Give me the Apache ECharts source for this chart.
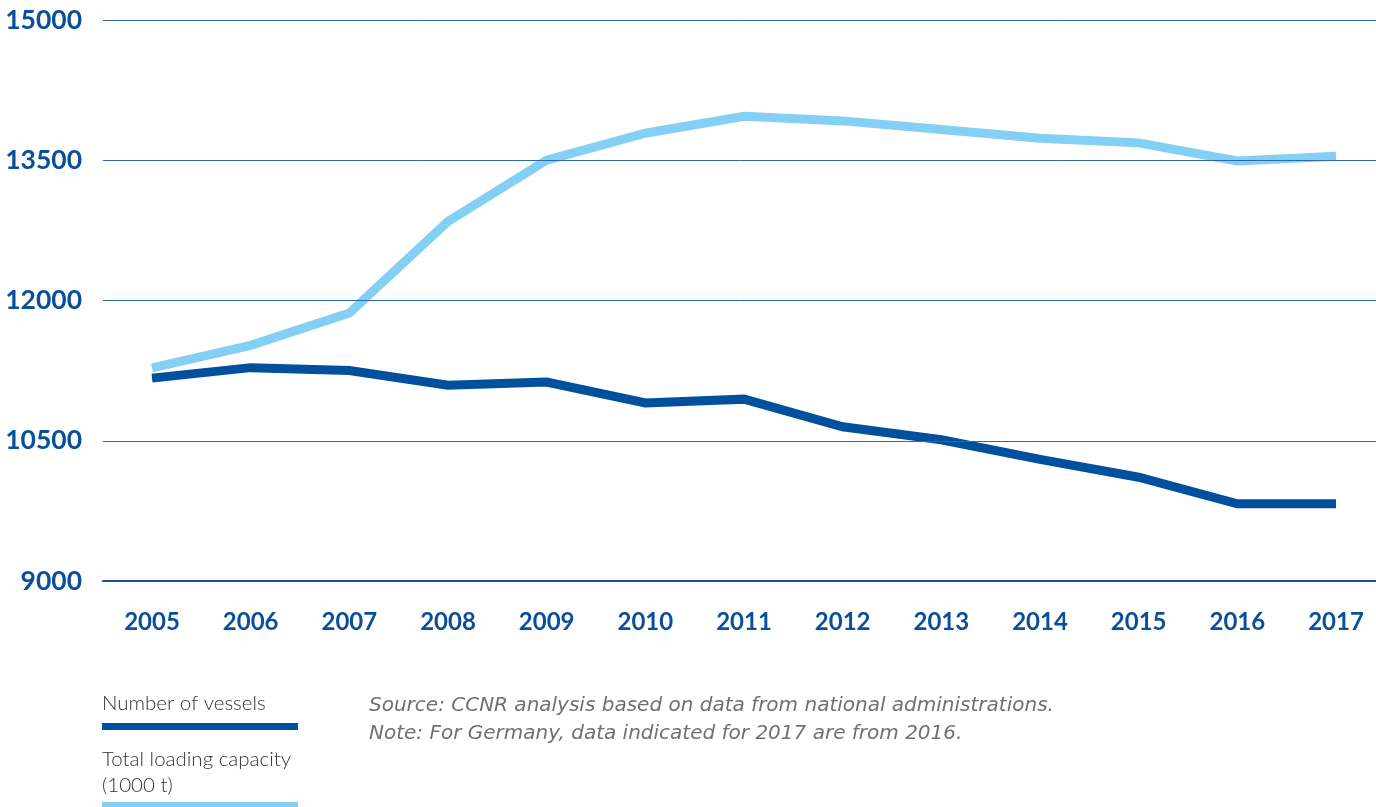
<!DOCTYPE html>
<html><head><meta charset="utf-8">
<script src="https://cdn.jsdelivr.net/npm/echarts@6/dist/echarts.min.js"></script>
<style>html,body{margin:0;padding:0;background:#fff}#c{width:1376px;height:807px}</style>
</head><body><div id="c"></div>
<script>
const years = ['2005','2006','2007','2008','2009','2010','2011','2012','2013','2014','2015','2016','2017'];
const vessels = [11170,11282,11252,11093,11128,10905,10945,10650,10510,10300,10110,9825,9825];
const capacity = [11280,11520,11866,12846,13500,13789,13971,13921,13828,13736,13686,13492,13542];
const yTicks = [9000,10500,12000,13500,15000];
const legendNames = ['Number of vessels','Total loading capacity\n(1000 t)'];
const noteLines = ['Source: CCNR analysis based on data from national administrations.','Note: For Germany, data indicated for 2017 are from 2016.'];
const DARK = '#00509e', LIGHT = '#84d0f5', TXT = '#0a4f9c';
const yMin = yTicks[0], yMax = yTicks[yTicks.length-1];

const chart = echarts.init(document.getElementById('c'));
chart.setOption({
  animation:false,
  grid:[
    {left:103,right:0,top:20,bottom:226},
    {left:152,right:40,top:20,bottom:226}
  ],
  xAxis:[
    {gridIndex:0,type:'value',min:0,max:1,show:true,z:5,
      axisLine:{show:true,onZero:false,lineStyle:{color:'#1e4f98',width:2}},
      axisTick:{show:false},axisLabel:{show:false},splitLine:{show:false}},
    {gridIndex:1,type:'category',data:years,boundaryGap:false,
      axisLine:{show:false},axisTick:{show:false},splitLine:{show:false},
      axisLabel:{color:TXT,fontFamily:'Lato',fontWeight:'bold',fontSize:24,margin:29}}
  ],
  yAxis:[
    {gridIndex:0,type:'value',min:yMin,max:yMax,interval:1500,z:5,
      axisLine:{show:false},axisTick:{show:false},
      splitLine:{lineStyle:{color:'#2f67ad',width:1}},
      axisLabel:{color:TXT,fontFamily:'Lato',fontWeight:'bold',fontSize:26.5,margin:21,formatter:v=>String(v)}},
    {gridIndex:1,type:'value',min:yMin,max:yMax,show:false,splitLine:{show:false}}
  ],
  series:[
    {name:legendNames[1],type:'line',xAxisIndex:1,yAxisIndex:1,data:capacity,symbol:'none',z:1,lineStyle:{color:LIGHT,width:9,join:'miter'}},
    {name:legendNames[0],type:'line',xAxisIndex:1,yAxisIndex:1,data:vessels,symbol:'none',z:1,lineStyle:{color:DARK,width:9,join:'miter'}}
  ],
  graphic:[
    {type:'text',left:102,top:693,style:{text:legendNames[0],font:'300 20.5px Lato',fill:'#333'}},
    {type:'rect',shape:{x:102,y:723,width:196,height:7},style:{fill:DARK}},
    {type:'text',left:102,top:746,style:{text:legendNames[1],font:'300 20.5px Lato',fill:'#333',lineHeight:26}},
    {type:'rect',shape:{x:102,y:802,width:196,height:7},style:{fill:LIGHT}},
    {type:'text',left:369,top:692,style:{text:noteLines.join('\n'),font:'italic 200 20px "DejaVu Sans ExtraLight", "DejaVu Sans"',fill:'#707070',lineHeight:28}}
  ]
});
</script></body></html>
